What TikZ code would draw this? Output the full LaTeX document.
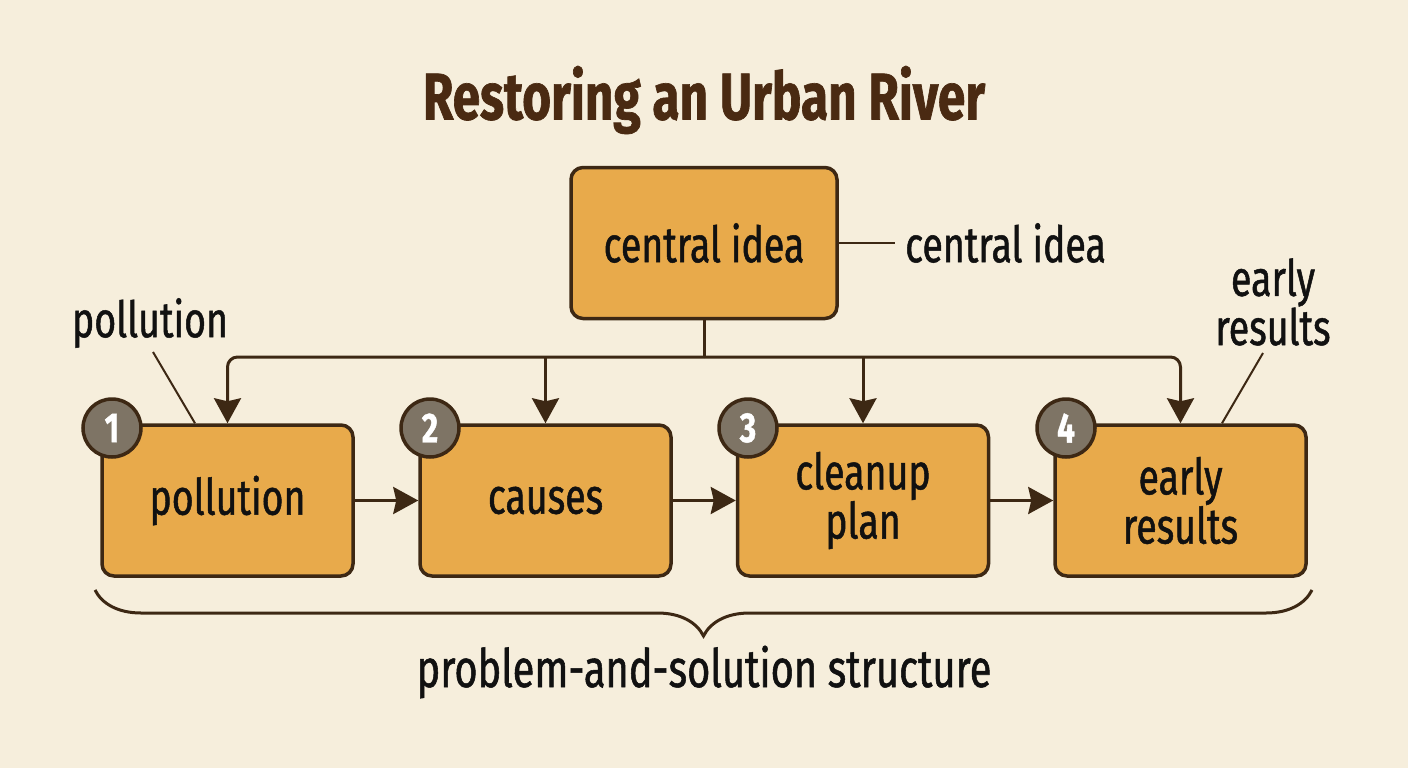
\documentclass[tikz,border=0pt]{standalone}
\usepackage{fontspec}
\setmainfont{Fira Sans}[FakeStretch=0.75,FakeBold=1]
\usetikzlibrary{arrows.meta,decorations.pathreplacing,calc}
\definecolor{bg}{HTML}{F6EEDC}
\definecolor{boxfill}{HTML}{E8AA4B}
\definecolor{edge}{HTML}{3D2814}
\definecolor{titlec}{HTML}{4A2A12}
\definecolor{badge}{HTML}{7E7465}
\definecolor{txt}{HTML}{111111}
\tikzset{
  stepbox/.style={rectangle, rounded corners=12pt, minimum width=251pt, minimum height=151pt,
    fill=boxfill, draw=edge, line width=3.5pt, align=center, text=txt,
    font=\fontsize{50}{48}\selectfont},
  badgenode/.style={circle, minimum size=58pt, inner sep=0pt, fill=badge, draw=edge, line width=3.5pt,
    text=white, font=\bfseries\fontsize{42}{42}\selectfont},
  conn/.style={draw=edge, line width=3pt},
  arr/.style={conn, -{Stealth[length=25pt,width=27pt,inset=3pt]}},
  callout/.style={draw=edge, line width=2pt},
  lbl/.style={text=txt, align=center, font=\fontsize{50}{48}\selectfont, inner sep=0pt},
}
\begin{document}
\begin{tikzpicture}[x=1pt,y=-1pt]
\fill[bg] (0,0) rectangle (1408,768);
\useasboundingbox (0,0) rectangle (1408,768);

\node[text=titlec, font=\bfseries\fontsize{66}{66}\selectfont] (title) at (704,100) {Restoring an Urban River};

\node[stepbox, minimum width=266pt] (c) at (704,243) {central idea};
\node[lbl, anchor=west] (cl) at (905,243) {central idea};
\draw[callout, line width=2.5pt] (c.east) -- ($(cl.west)+(-10pt,0)$);

\node[stepbox] (b1) at (227.5,500.5) {pollution};
\node[stepbox] (b2) at (545.5,500.5) {causes};
\node[stepbox] (b3) at (863,500.5) {cleanup\\plan};
\node[stepbox] (b4) at (1180.5,500.5) {early\\results};

\node[badgenode] (n1) at (112,428) {1};
\node[badgenode] (n2) at (430,428) {2};
\node[badgenode] (n3) at (748,428) {3};
\node[badgenode] (n4) at (1066,428) {4};

\coordinate (bus) at (704,357);
\draw[conn] (c.south) -- (bus);
\draw[arr, rounded corners=10pt] (bus) -| (b1.north);
\draw[arr, rounded corners=10pt] (bus) -| (b4.north);
\draw[arr] (bus -| b2.north) -- (b2.north);
\draw[arr] (bus -| b3.north) -- (b3.north);

\draw[arr] (b1.east) -- (b2.west);
\draw[arr] (b2.east) -- (b3.west);
\draw[arr] (b3.east) -- (b4.west);

\node[lbl] (pl) at (150,323) {pollution};
\coordinate (p1) at (153,352);
\draw[callout] (p1) -- (b1.north -| 195,0);

\node[lbl] (el) at (1273,302) {early\\results};
\coordinate (e1) at (1263,353);
\draw[callout] (e1) -- (b4.north -| 1222,0);

\coordinate (brl) at (95,590);
\coordinate (brr) at (1312,590);
\draw[draw=edge, line width=3pt, decorate, decoration={brace, mirror, amplitude=46pt}] (brl) -- (brr);
\node[lbl, font=\fontsize{53}{50}\selectfont] (st) at (704,672) {problem-and-solution structure};
\end{tikzpicture}
\end{document}
